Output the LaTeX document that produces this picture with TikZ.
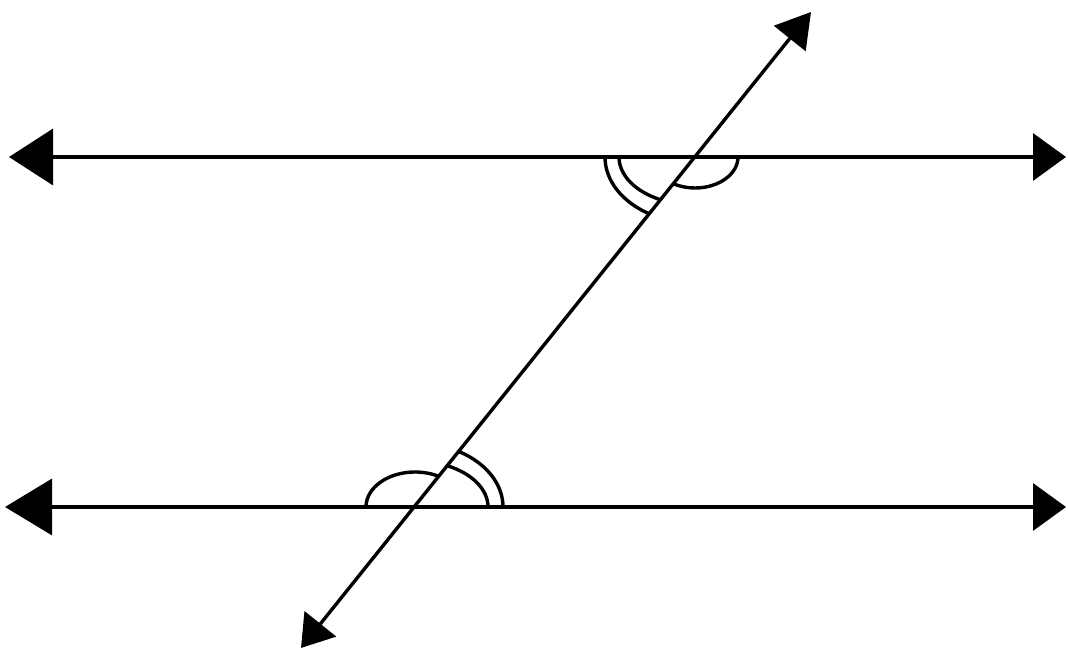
\documentclass[tikz,border=0pt]{standalone}
\usetikzlibrary{arrows.meta}
\begin{document}
\begin{tikzpicture}[x=1pt,y=1pt,
  ln/.style={line width=3.4pt},
  am/.style={line width=3.4pt}]
\useasboundingbox (0,0) rectangle (1068,652);
% coordinates (origin bottom-left)
\coordinate (TL) at (9,495);
\coordinate (TR) at (1066,495);
\coordinate (BL) at (5,145);
\coordinate (BR) at (1066,145);
\coordinate (TT) at (811,640);
\coordinate (TB) at (301,4);
\coordinate (I1) at (695,495);
\coordinate (I2) at (415,145);
% lines
\draw[ln, {Triangle[length=44pt,width=56pt]}-{Triangle[length=33pt,width=47pt]}] (TL) -- (TR);
\draw[ln, {Triangle[length=47pt,width=56pt]}-{Triangle[length=33pt,width=47pt]}] (BL) -- (BR);
\draw[ln, {Triangle[length=31pt,width=40pt]}-{Triangle[length=34pt,width=40pt]}] (TB) -- (TT);
% angle marks at top intersection
\draw[am] ([shift={(43,0)}]I1) arc[start angle=0,end angle=-119.25,x radius=43pt,y radius=31pt];
\draw[am] ([shift={(-76,0)}]I1) arc[start angle=180,end angle=243.6,x radius=76pt,y radius=48pt];
\draw[am] ([shift={(-90,0)}]I1) arc[start angle=180,end angle=239.72,x radius=90pt,y radius=66pt];
% angle marks at bottom intersection
\draw[am] ([shift={(-49,0)}]I2) arc[start angle=180,end angle=60.75,x radius=49pt,y radius=35pt];
\draw[am] ([shift={(73,0)}]I2) arc[start angle=0,end angle=63.6,x radius=73pt,y radius=46pt];
\draw[am] ([shift={(88,0)}]I2) arc[start angle=0,end angle=59.72,x radius=88pt,y radius=64pt];
\end{tikzpicture}
\end{document}
